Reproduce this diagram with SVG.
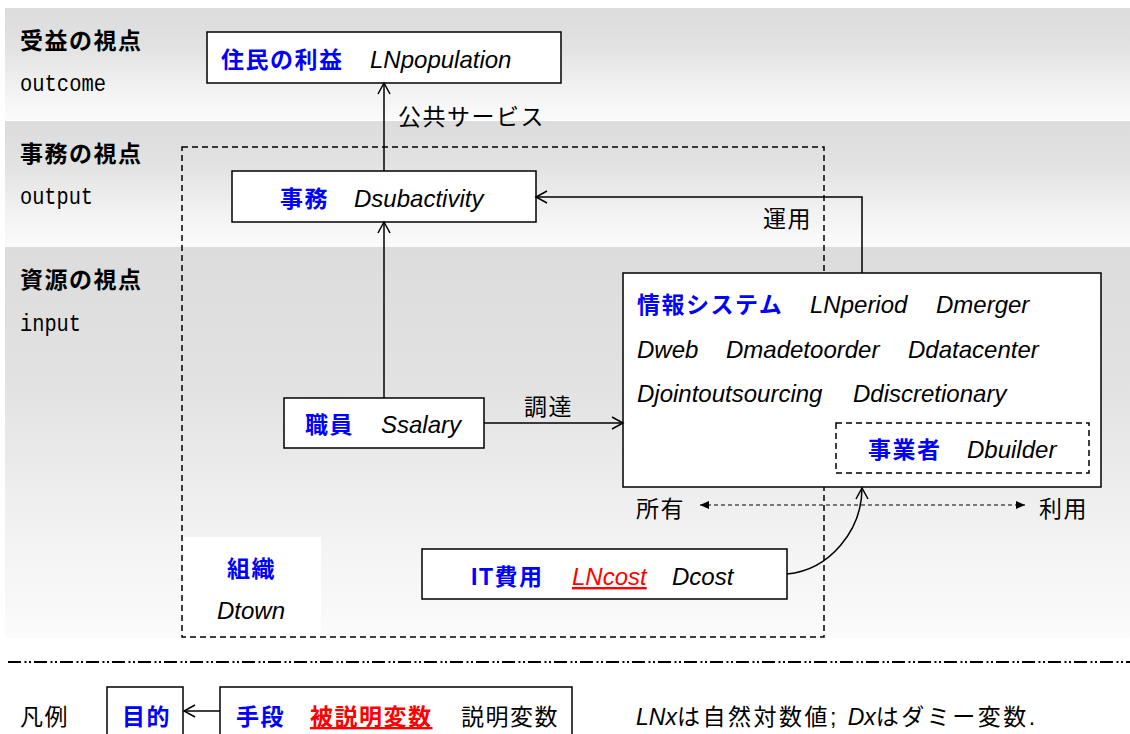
<svg xmlns="http://www.w3.org/2000/svg" width="1130" height="734" viewBox="0 0 1130 734">
<style>
.t{font-family:"Liberation Sans","Noto Sans CJK JP",sans-serif;font-size:23px;fill:#000;letter-spacing:1.5px}
.b{font-weight:bold}
.nm{fill:#0000ff;font-weight:bold}
.red{fill:#ff0000;font-weight:bold;text-decoration:underline}
.it{font-family:"Liberation Sans",Arial,sans-serif;font-style:italic;font-size:24px;fill:#000;letter-spacing:0}
.mono{font-family:"Liberation Mono",monospace;font-size:23px;fill:#000}
.box{fill:#fff;stroke:#000;stroke-width:1.5}
.dbox{fill:none;stroke:#000;stroke-width:1.5;stroke-dasharray:6 4}
.ln{fill:none;stroke:#000;stroke-width:1.5}
</style>
<defs>
<linearGradient id="band" x1="0" y1="0" x2="0" y2="1">
<stop offset="0" stop-color="#dcdcdc"/>
<stop offset="0.35" stop-color="#e2e2e2"/>
<stop offset="0.75" stop-color="#f3f3f3"/>
<stop offset="1" stop-color="#fbfbfb"/>
</linearGradient>
<marker id="open" markerUnits="userSpaceOnUse" markerWidth="16" markerHeight="16" viewBox="-13 -8 16 16" refX="0" refY="0" orient="auto">
<path d="M-11,-6 L0,0 L-11,6" fill="none" stroke="#000" stroke-width="1.5"/>
</marker>
<marker id="fill" markerUnits="userSpaceOnUse" markerWidth="12" markerHeight="12" viewBox="-10 -6 12 12" refX="0" refY="0" orient="auto-start-reverse">
<path d="M-9,-4 L0,0 L-9,4 Z" fill="#000"/>
</marker>
</defs>

<g id="bands">
<rect x="5" y="8" width="1125" height="112" fill="url(#band)"/>
<rect x="5" y="121" width="1125" height="126" fill="url(#band)"/>
<rect x="5" y="247" width="1125" height="391" fill="url(#band)"/>
<text class="t b" x="20" y="49">受益の視点</text>
<text class="mono" x="20" y="91" textLength="86" lengthAdjust="spacingAndGlyphs">outcome</text>
<text class="t b" x="20" y="162">事務の視点</text>
<text class="mono" x="20" y="204" textLength="73" lengthAdjust="spacingAndGlyphs">output</text>
<text class="t b" x="20" y="288">資源の視点</text>
<text class="mono" x="20" y="331" textLength="61" lengthAdjust="spacingAndGlyphs">input</text>
</g>

<g id="org">
<rect x="183" y="537" width="138" height="100" fill="#fff"/>
<rect class="dbox" x="182" y="147" width="642" height="490"/>
<text class="t nm" x="227" y="577">組織</text>
<text class="it" x="217" y="619">Dtown</text>
</g>

<g id="benefit">
<rect class="box" x="207" y="32" width="354" height="51"/>
<text class="t nm" x="221" y="68">住民の利益</text>
<text class="it" x="370" y="68">LNpopulation</text>
</g>

<g id="jimu">
<rect class="box" x="232" y="171" width="304" height="51"/>
<text class="t nm" x="280" y="207">事務</text>
<text class="it" x="354" y="207">Dsubactivity</text>
</g>

<g id="infosys">
<rect class="box" x="623" y="273" width="478" height="214"/>
<text class="t nm" x="637" y="313">情報システム</text>
<text class="it" x="810" y="313">LNperiod</text>
<text class="it" x="936" y="313">Dmerger</text>
<text class="it" x="637" y="358">Dweb</text>
<text class="it" x="726" y="358">Dmadetoorder</text>
<text class="it" x="908" y="358">Ddatacenter</text>
<text class="it" x="637" y="402">Djointoutsourcing</text>
<text class="it" x="853" y="402">Ddiscretionary</text>
</g>

<g id="builder">
<rect class="dbox" x="836" y="423" width="253" height="50"/>
<text class="t nm" x="868" y="458">事業者</text>
<text class="it" x="967" y="458">Dbuilder</text>
</g>

<g id="staff">
<rect class="box" x="284" y="398" width="200" height="50"/>
<text class="t nm" x="305" y="433">職員</text>
<text class="it" x="381" y="433">Ssalary</text>
</g>

<g id="itcost">
<rect class="box" x="422" y="549" width="365" height="50"/>
<text class="t nm" x="471" y="585">IT費用</text>
<text class="it" x="572" y="585" style="fill:#ff0000;text-decoration:underline">LNcost</text>
<text class="it" x="672" y="585">Dcost</text>
</g>

<g id="connectors">
<line class="ln" x1="384" y1="171" x2="384" y2="83" marker-end="url(#open)"/>
<text class="t" x="398" y="125">公共サービス</text>
<line class="ln" x1="384" y1="398" x2="384" y2="222" marker-end="url(#open)"/>
<path class="ln" d="M862,273 V197 H536" marker-end="url(#open)"/>
<text class="t" x="763" y="227">運用</text>
<line class="ln" x1="484" y1="423" x2="623" y2="423" marker-end="url(#open)"/>
<text class="t" x="524" y="415">調達</text>
<path class="ln" d="M787,574 C830,570 862,530 862,488" marker-end="url(#open)"/>
<line x1="700" y1="505" x2="1025" y2="505" stroke="#000" stroke-width="1.2" stroke-dasharray="4 3" marker-start="url(#fill)" marker-end="url(#fill)"/>
<text class="t" x="636" y="517">所有</text>
<text class="t" x="1039" y="517">利用</text>
</g>

<g id="legend">
<line x1="8" y1="662" x2="1130" y2="662" stroke="#000" stroke-width="1.8" stroke-dasharray="13 3.5 2 2.5 2 3"/>
<text class="t" x="20" y="725">凡例</text>
<rect class="box" x="107" y="687" width="76" height="60"/>
<text class="t nm" x="122" y="725">目的</text>
<line class="ln" x1="220" y1="711" x2="184" y2="711" marker-end="url(#open)"/>
<rect class="box" x="220" y="687" width="352" height="60"/>
<text class="t nm" x="236" y="725">手段</text>
<text class="t red" x="310" y="725">被説明変数</text>
<text class="t" x="461" y="725">説明変数</text>
<text class="t" x="636" y="725" style="letter-spacing:2.5px"><tspan class="it" style="font-size:23px">LNx</tspan>は自然対数値; <tspan class="it" style="font-size:23px">Dx</tspan>はダミー変数.</text>
</g>
</svg>
